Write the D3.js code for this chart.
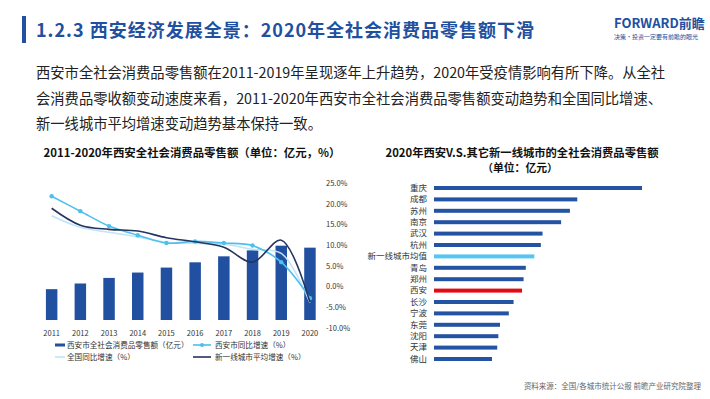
<!DOCTYPE html>
<html>
<head>
<meta charset="utf-8">
<script src="https://cdn.jsdelivr.net/npm/d3@7"></script>
<style>
  body { margin: 0; background: #fff; }
  text { font-family: "Noto Sans CJK SC", "Noto Sans", sans-serif; }
</style>
</head>
<body>
<article></article>
<script>
// 左图：西安全社会消费品零售额及增速
const years = ['2011', '2012', '2013', '2014', '2015', '2016', '2017', '2018', '2019', '2020']
const xianSales = [2127, 2518, 2902, 3272, 3615, 3979, 4391, 4802, 5125, 4989]
const xianGrowth = [21.8, 18.2, 14.6, 12.4, 10.5, 10.9, 10.5, 9.9, 5.9, -2.8]
const nationGrowth = [17.1, 14.3, 13.1, 12.0, 10.7, 10.4, 10.2, 9.0, 8.0, -3.9]
const tier1Growth = [18.9, 14.8, 13.8, 13.4, 11.8, 10.8, 9.5, 5.9, 11.2, -3.8]
const pctTicks = [25, 20, 15, 10, 5, 0, -5, -10]

// 右图：2020年新一线城市全社会消费品零售额
const cities = ['重庆', '成都', '苏州', '南京', '武汉', '杭州', '新一线城市均值', '青岛', '郑州', '西安', '长沙', '宁波', '东莞', '沈阳', '天津', '佛山']
const citySales = [11787, 8119, 7702, 7203, 6150, 6055, 5686, 5204, 5076, 4989, 4509, 4239, 3741, 3646, 3583, 3286]

const m = { width: 710, height: 399 }
const blue = '#2150a0'

const svg = d3.select('article').append('svg')
    .attr('width', m.width)
    .attr('height', m.height)

// header
svg.append('rect').attr('x', 22).attr('y', 16).attr('width', 4).attr('height', 27).attr('fill', blue)
svg.append('text')
    .attr('x', 36).attr('y', 37)
    .attr('font-size', 18).attr('font-weight', 'bold')
    .attr('letter-spacing', 1)
    .attr('fill', blue)
    .text('1.2.3 西安经济发展全景：2020年全社会消费品零售额下滑')

svg.append('text')
    .attr('x', 614).attr('y', 28)
    .attr('font-size', 13).attr('font-weight', 'bold')
    .attr('fill', blue)
    .attr('font-family', 'Roboto')
    .text('FORWARD前瞻')
svg.append('text')
    .attr('x', 614).attr('y', 39)
    .attr('font-size', 6).attr('fill', blue)
    .text('决策·投资一定要有前瞻的眼光')

const para = [
    '西安市全社会消费品零售额在2011-2019年呈现逐年上升趋势，2020年受疫情影响有所下降。从全社',
    '会消费品零收额变动速度来看，2011-2020年西安市全社会消费品零售额变动趋势和全国同比增速、',
    '新一线城市平均增速变动趋势基本保持一致。'
]
svg.selectAll('.para')
    .data(para)
    .enter()
    .append('text')
    .attr('class', 'para')
    .attr('x', 36)
    .attr('y', (d, i) => 78 + i * 25.5)
    .attr('font-size', 14.3)
    .attr('fill', '#222')
    .text(d => d)

// ---------- left chart ----------
svg.append('text')
    .attr('x', 192).attr('y', 157)
    .attr('text-anchor', 'middle')
    .attr('font-size', 11.4).attr('font-weight', 'bold')
    .attr('fill', '#111')
    .text('2011-2020年西安全社会消费品零售额（单位：亿元，%）')

const x = d3.scaleBand()
    .domain(years)
    .range([37.3, 324.3])
    .paddingInner(0.6)
    .paddingOuter(0.3)

const yBar = d3.scaleLinear()
    .domain([0, 10000])
    .range([320, 175])

const yPct = d3.scaleLinear()
    .domain([-10, 25])
    .range([328, 183])

const left = svg.append('g')

left.selectAll('.bar')
    .data(xianSales)
    .enter()
    .append('rect')
    .attr('class', 'bar')
    .attr('x', (d, i) => x(years[i]))
    .attr('y', d => yBar(d))
    .attr('width', x.bandwidth())
    .attr('height', d => yBar(0) - yBar(d))
    .attr('fill', blue)

const xAxis = left.append('g')
    .attr('transform', 'translate(0,326)')
    .call(d3.axisBottom(x).tickSize(0))
xAxis.select('.domain').remove()
xAxis.selectAll('text')
    .attr('font-size', 7.5)
    .attr('fill', '#333')
    .attr('dy', '0.9em')

const pAxis = left.append('g')
    .attr('transform', 'translate(326,0)')
    .call(d3.axisRight(yPct).tickValues(pctTicks).tickSize(0).tickFormat(d => d.toFixed(1) + '%'))
pAxis.select('.domain').remove()
pAxis.selectAll('text')
    .attr('font-size', 7.5)
    .attr('fill', '#333')
    .attr('x', 0)
    .attr('text-anchor', 'start')

const cx = (d, i) => x(years[i]) + x.bandwidth() / 2
const line = d3.line()
    .x(cx)
    .y(d => yPct(d))
    .curve(d3.curveCatmullRom.alpha(0.5))

left.append('path')
    .attr('d', line(nationGrowth))
    .attr('fill', 'none')
    .attr('stroke', '#bfe5f6')
    .attr('stroke-width', 1.6)

left.append('path')
    .attr('d', line(xianGrowth))
    .attr('fill', 'none')
    .attr('stroke', '#4cc0ee')
    .attr('stroke-width', 1.6)

left.selectAll('.dot')
    .data(xianGrowth)
    .enter()
    .append('circle')
    .attr('class', 'dot')
    .attr('cx', cx)
    .attr('cy', d => yPct(d))
    .attr('r', 2.2)
    .attr('fill', '#4cc0ee')

left.append('path')
    .attr('d', line(tier1Growth))
    .attr('fill', 'none')
    .attr('stroke', '#27345f')
    .attr('stroke-width', 1.6)

// legend
const legend = [
    { label: '西安市全社会消费品零售额（亿元）', type: 'bar', color: blue, col: 0, row: 0 },
    { label: '西安市同比增速（%）', type: 'dot', color: '#4cc0ee', col: 1, row: 0 },
    { label: '全国同比增速（%）', type: 'line', color: '#bfe5f6', col: 0, row: 1 },
    { label: '新一线城市平均增速（%）', type: 'line', color: '#27345f', col: 1, row: 1 }
]
const lg = svg.selectAll('.lg')
    .data(legend)
    .enter()
    .append('g')
    .attr('class', 'lg')
    .attr('transform', d => 'translate(' + (d.col ? 193 : 55) + ',' + (345 + d.row * 12) + ')')
lg.append('rect')
    .attr('x', 0).attr('y', d => d.type == 'bar' ? -1.5 : -0.8)
    .attr('width', d => d.col ? 18 : 10)
    .attr('height', d => d.type == 'bar' ? 3 : 1.6)
    .attr('fill', d => d.color)
lg.filter(d => d.type == 'dot').append('circle')
    .attr('cx', 9).attr('cy', 0).attr('r', 2)
    .attr('fill', d => d.color)
lg.append('text')
    .attr('x', d => d.col ? 22 : 12)
    .attr('y', 0)
    .attr('dy', '0.35em')
    .attr('font-size', 7.6)
    .attr('fill', '#333')
    .text(d => d.label)

// ---------- right chart ----------
svg.append('text')
    .attr('x', 522).attr('y', 156.5)
    .attr('text-anchor', 'middle')
    .attr('font-size', 11.3).attr('font-weight', 'bold')
    .attr('fill', '#111')
    .text('2020年西安V.S.其它新一线城市的全社会消费品零售额')
svg.append('text')
    .attr('x', 520).attr('y', 172)
    .attr('text-anchor', 'middle')
    .attr('font-size', 10.8).attr('font-weight', 'bold')
    .attr('fill', '#111')
    .text('（单位：亿元）')

const yCity = d3.scaleBand()
    .domain(cities)
    .range([182.3, 364.7])
    .paddingInner(0.65)
    .paddingOuter(0.325)

const xCity = d3.scaleLinear()
    .domain([0, 11787])
    .range([434, 642])

const right = svg.append('g')
right.selectAll('.cbar')
    .data(citySales)
    .enter()
    .append('rect')
    .attr('class', 'cbar')
    .attr('x', xCity(0))
    .attr('y', (d, i) => yCity(cities[i]))
    .attr('width', d => xCity(d) - xCity(0))
    .attr('height', yCity.bandwidth())
    .attr('fill', (d, i) => cities[i] == '西安' ? '#e30b13' : cities[i] == '新一线城市均值' ? '#55c6f2' : '#2553a3')

const cAxis = right.append('g')
    .attr('transform', 'translate(430,0)')
    .call(d3.axisLeft(yCity).tickSize(0))
cAxis.select('.domain').remove()
cAxis.selectAll('text')
    .attr('font-size', 8.5)
    .attr('fill', '#333')
    .attr('x', -3)

// source
svg.append('text')
    .attr('x', 701).attr('y', 389)
    .attr('text-anchor', 'end')
    .attr('font-size', 7.5)
    .attr('fill', '#666')
    .text('资料来源：全国/各城市统计公报  前瞻产业研究院整理')
</script>
</body>
</html>
